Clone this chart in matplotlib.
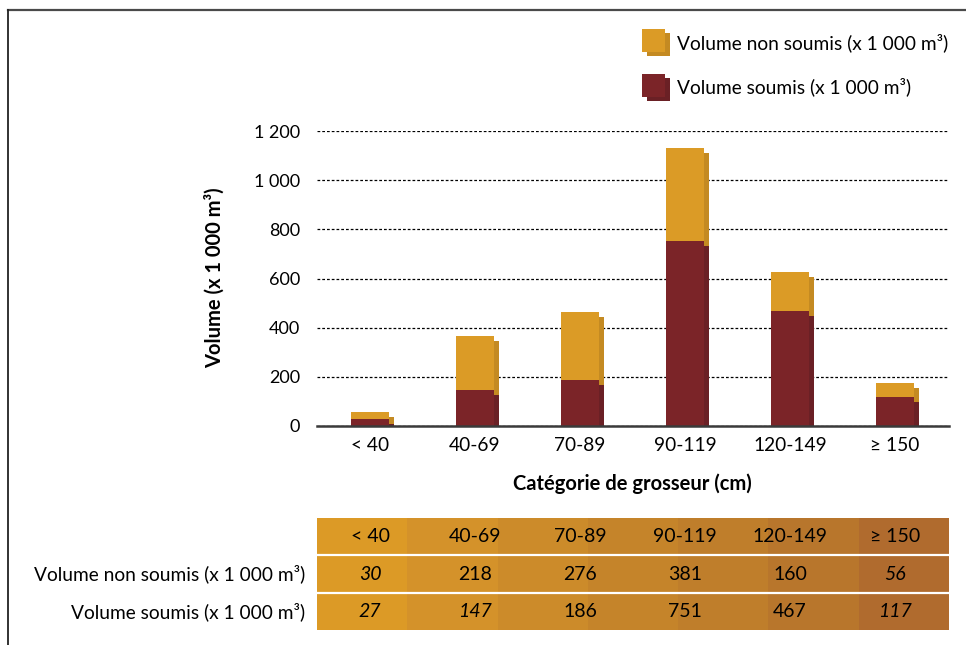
import matplotlib
matplotlib.use("Agg")
import matplotlib.pyplot as plt
from matplotlib.patches import Rectangle
from matplotlib.lines import Line2D

# ---- data ----
categories = ["< 40", "40-69", "70-89", "90-119", "120-149", "≥ 150"]
volume_non_soumis = [30, 218, 276, 381, 160, 56]
volume_soumis = [27, 147, 186, 751, 467, 117]
y_ticks = [0, 200, 400, 600, 800, 1000, 1200]
y_tick_labels = ["0", "200", "400", "600", "800", "1 000", "1 200"]
label_non_soumis = "Volume non soumis (x 1 000 m³)"
label_soumis = "Volume soumis (x 1 000 m³)"
italic_non_soumis = {0, 5}
italic_soumis = {0, 1, 5}

# ---- style ----
FONT = ["Lato", "DejaVu Sans"]
plt.rcParams["font.family"] = FONT
ORANGE = "#db9b26"
ORANGE_SH = "#c48a22"
RED = "#7b2428"
RED_SH = "#6a2025"
BAND_COLORS = ["#dc9a26", "#d4922a", "#cc8b2a", "#c5842a", "#bf7e2b",
               "#b8762c", "#b06b2e"]
FS_TICK = 13
FS_TEXT = 13.8
FS_BOLD = 14.5
FS_TABLE = 14

W, H = 966, 645
fig = plt.figure(figsize=(W / 100, H / 100), dpi=100)


def fx(px):
    return px / W


def fy(py):
    return 1 - py / H


# ---- bar chart ----
ax_left, ax_right, ax_top, ax_bot = 317, 949, 131, 426
ax = fig.add_axes([fx(ax_left), fy(ax_bot), (ax_right - ax_left) / W,
                   (ax_bot - ax_top) / H])
xlim = (-0.505, 5.515)
ax.set_xlim(*xlim)
ax.set_ylim(0, 1200)

x = list(range(len(categories)))
bar_w = 0.362
px_per_x = (ax_right - ax_left) / (xlim[1] - xlim[0])
px_per_y = (ax_bot - ax_top) / 1200
dx = 5 / px_per_x
dy = 5 / px_per_y

# shadow behind each stacked bar
xs = [v + dx for v in x]
sh_soumis = [s - dy for s in volume_soumis]
ax.bar(xs, sh_soumis, width=bar_w, color=RED_SH, zorder=2)
ax.bar(xs, volume_non_soumis, bottom=sh_soumis, width=bar_w,
       color=ORANGE_SH, zorder=2)
# front bars
ax.bar(x, volume_soumis, width=bar_w, color=RED, zorder=3)
ax.bar(x, volume_non_soumis, bottom=volume_soumis, width=bar_w,
       color=ORANGE, zorder=3)

ax.set_axisbelow(True)
ax.yaxis.grid(True, color="black", linestyle=(0, (2.2, 1.6)), linewidth=0.9)
for s in ("left", "right", "top"):
    ax.spines[s].set_visible(False)
ax.spines["bottom"].set_color("#3a3a3a")
ax.spines["bottom"].set_linewidth(1.8)
ax.spines["bottom"].set_zorder(5)

ax.set_yticks(y_ticks, y_tick_labels)
ax.set_xticks(x, categories)
ax.tick_params(axis="y", length=0, pad=12, labelsize=FS_TICK)
ax.tick_params(axis="x", length=0, pad=8, labelsize=FS_TEXT)

fig.text(fx(215), fy(278), "Volume (x 1 000 m³)", rotation=90,
         ha="center", va="center", fontsize=FS_BOLD, fontweight="bold")
fig.text(fx(632), fy(484), "Catégorie de grosseur (cm)",
         ha="center", va="center", fontsize=FS_BOLD, fontweight="bold")

# ---- legend ----
def legend_square(x0, y0, front, shadow):
    fig.add_artist(Rectangle((fx(x0 + 5), fy(y0 + 27)), 23 / W, 23 / H,
                             transform=fig.transFigure, color=shadow, lw=0))
    fig.add_artist(Rectangle((fx(x0), fy(y0 + 23)), 23 / W, 23 / H,
                             transform=fig.transFigure, color=front, lw=0))


legend_square(642, 29, ORANGE, ORANGE_SH)
legend_square(642, 74, RED, RED_SH)
fig.text(fx(677), fy(43), label_non_soumis, ha="left", va="center",
         fontsize=FS_TEXT)
fig.text(fx(677), fy(87), label_soumis, ha="left", va="center",
         fontsize=FS_TEXT)

# ---- data table ----
t_top, t_bot = 518, 630
tax = fig.add_axes([fx(ax_left), fy(t_bot), (ax_right - ax_left) / W,
                    (t_bot - t_top) / H])
tax.set_xlim(*xlim)
tax.set_ylim(0, 3)
tax.axis("off")
nb = len(BAND_COLORS)
for i, c in enumerate(BAND_COLORS):
    tax.add_patch(Rectangle((i / nb, 0), 1 / nb + 0.001, 1,
                            transform=tax.transAxes, color=c, lw=0))
for yl in (1, 2):
    tax.axhline(yl, color="white", linewidth=1.6)

for i, cat in enumerate(categories):
    tax.text(i, 2.5, cat, ha="center", va="center", fontsize=FS_TABLE)
    tax.text(i, 1.5, str(volume_non_soumis[i]), ha="center", va="center",
             fontsize=FS_TABLE,
             style="italic" if i in italic_non_soumis else "normal")
    tax.text(i, 0.5, str(volume_soumis[i]), ha="center", va="center",
             fontsize=FS_TABLE,
             style="italic" if i in italic_soumis else "normal")

fig.text(fx(305), fy(574), label_non_soumis, ha="right", va="center",
         fontsize=FS_TEXT)
fig.text(fx(305), fy(612), label_soumis, ha="right", va="center",
         fontsize=FS_TEXT)

# ---- frame ----
fig.add_artist(Line2D([fx(8), 1], [fy(10), fy(10)], color="#4a4a4a",
                      linewidth=1.6, transform=fig.transFigure))
fig.add_artist(Line2D([fx(8), fx(8)], [fy(10), 0], color="#222222",
                      linewidth=1.3, transform=fig.transFigure))

fig.savefig("out.png", dpi=100)
